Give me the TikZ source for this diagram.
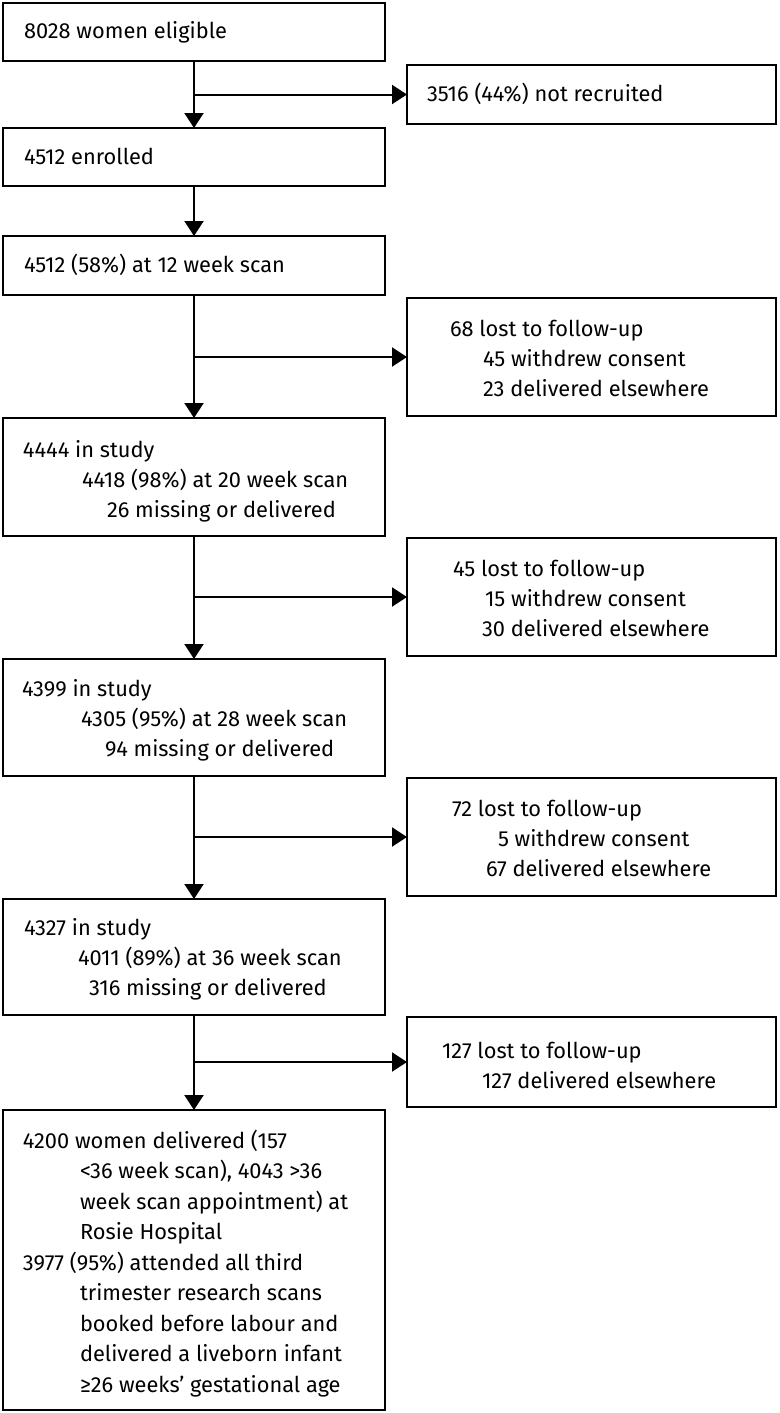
\documentclass[tikz,border=0pt]{standalone}
\usepackage{fontspec}
\setmainfont{Fira Sans}
\usetikzlibrary{arrows.meta}
\begin{document}
\begin{tikzpicture}[x=1pt, y=-1pt,
  box/.style={draw, line width=2pt, inner sep=0pt, outer sep=0pt, anchor=north west},
  lbox/.style={box, minimum width=382pt},
  rbox/.style={box, minimum width=369pt},
  txt/.style={anchor=base west, inner sep=0pt, outer sep=0pt, font=\fontsize{21.8}{26}\selectfont},
  conn/.style={line width=2pt, -{Triangle[length=15pt, width=19pt]}},
  link/.style={line width=2pt}]
\useasboundingbox (0,0) rectangle (779,1413);
% boxes
\node[lbox, minimum height=58pt] (b1) at (3,3) {};
\node[rbox, minimum height=59pt] (r1) at (407,65) {};
\node[lbox, minimum height=58pt] (b2) at (3,128) {};
\node[lbox, minimum height=59pt] (b3) at (3,236) {};
\node[rbox, minimum height=118pt] (r2) at (407,298) {};
\node[lbox, minimum height=118pt] (b4) at (3,418) {};
\node[rbox, minimum height=118pt] (r3) at (407,538) {};
\node[lbox, minimum height=117pt] (b5) at (3,659) {};
\node[rbox, minimum height=118pt] (r4) at (407,778) {};
\node[lbox, minimum height=116pt] (b6) at (3,899) {};
\node[rbox, minimum height=90pt] (r5) at (407,1017) {};
\node[lbox, minimum height=300pt] (b7) at (3,1110) {};
% texts
\node[txt] (t1) at (24,39) {8028 women eligible};
\node[txt] (t2) at (427,101) {3516 (44\%) not recruited};
\node[txt] (t3) at (24,164) {4512 enrolled};
\node[txt] (t4) at (24,272) {4512 (58\%) at 12 week scan};
\node[txt] (t5a) at (450,336) {68 lost to follow-up};
\node[txt] (t5b) at (483,366) {45 withdrew consent};
\node[txt] (t5c) at (483,396) {23 delivered elsewhere};
\node[txt] (t6a) at (23,457) {4444 in study};
\node[txt] (t6b) at (82,487) {4418 (98\%) at 20 week scan};
\node[txt] (t6c) at (107,517) {26 missing or delivered};
\node[txt] (t7a) at (453,576) {45 lost to follow-up};
\node[txt] (t7b) at (485,606) {15 withdrew consent};
\node[txt] (t7c) at (482,636) {30 delivered elsewhere};
\node[txt] (t8a) at (22,696) {4399 in study};
\node[txt] (t8b) at (81,726) {4305 (95\%) at 28 week scan};
\node[txt] (t8c) at (105,756) {94 missing or delivered};
\node[txt] (t9a) at (452,816) {72 lost to follow-up};
\node[txt] (t9b) at (498,846) {5 withdrew consent};
\node[txt] (t9c) at (486,876) {67 delivered elsewhere};
\node[txt] (t10a) at (24,935) {4327 in study};
\node[txt] (t10b) at (78,965) {4011 (89\%) at 36 week scan};
\node[txt] (t10c) at (89,995) {316 missing or delivered};
\node[txt] (t11a) at (442,1058) {127 lost to follow-up};
\node[txt] (t11b) at (482,1088) {127 delivered elsewhere};
\node[txt] (t12a) at (23,1148) {4200 women delivered (157};
\node[txt] (t12b) at (80,1178.5) {<36 week scan), 4043 >36};
\node[txt] (t12c) at (80,1209) {week scan appointment) at};
\node[txt] (t12d) at (80,1239.5) {Rosie Hospital};
\node[txt] (t12e) at (23,1270) {3977 (95\%) attended all third};
\node[txt] (t12f) at (80,1300.5) {trimester research scans};
\node[txt] (t12g) at (80,1331) {booked before labour and};
\node[txt] (t12h) at (80,1361.5) {delivered a liveborn infant};
\node[txt] (t12i) at (80,1392) {≥26 weeks’ gestational age};
% connectors
\draw[conn] (b1.south) -- (b2.north);
\draw[conn] (b1.south |- r1.west) -- (r1.west);
\draw[conn] (b2.south) -- (b3.north);
\draw[conn] (b3.south) -- (b4.north);
\draw[conn] (b3.south |- r2.west) -- (r2.west);
\draw[conn] (b4.south) -- (b5.north);
\draw[conn] (b4.south |- r3.west) -- (r3.west);
\draw[conn] (b5.south) -- (b6.north);
\draw[conn] (b5.south |- r4.west) -- (r4.west);
\draw[conn] (b6.south) -- (b7.north);
\draw[conn] (b6.south |- r5.west) -- (r5.west);
\end{tikzpicture}
\end{document}
